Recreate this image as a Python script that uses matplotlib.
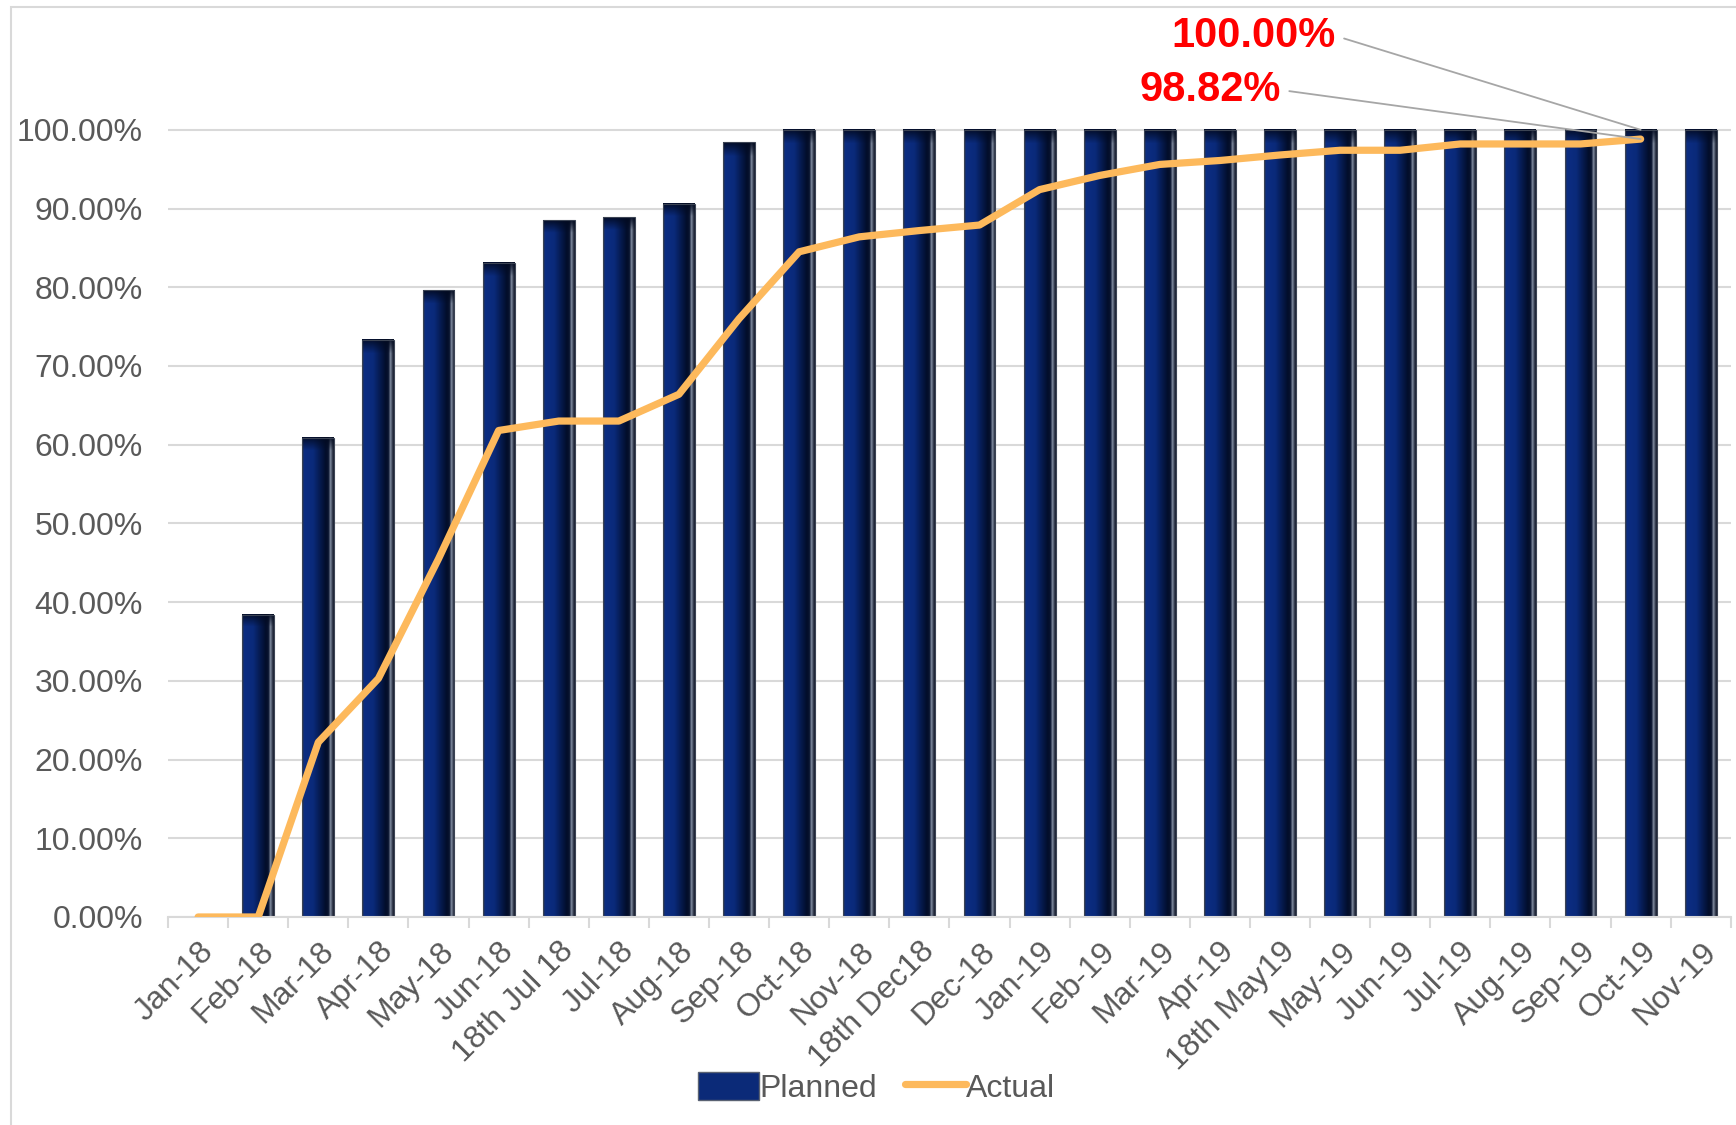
import numpy as np
import matplotlib.pyplot as plt
from matplotlib.colors import LinearSegmentedColormap, to_rgb
from matplotlib.patches import Rectangle, Patch
from matplotlib.lines import Line2D

plt.rcParams['font.family'] = ['Liberation Sans', 'DejaVu Sans']

months = ["Jan-18", "Feb-18", "Mar-18", "Apr-18", "May-18", "Jun-18", "18th Jul 18",
          "Jul-18", "Aug-18", "Sep-18", "Oct-18", "Nov-18", "18th Dec18", "Dec-18",
          "Jan-19", "Feb-19", "Mar-19", "Apr-19", "18th May19", "May-19", "Jun-19",
          "Jul-19", "Aug-19", "Sep-19", "Oct-19", "Nov-19"]
planned = [0.0, 0.384, 0.609, 0.733, 0.796, 0.831, 0.885, 0.889, 0.906, 0.984,
           1.0, 1.0, 1.0, 1.0, 1.0, 1.0, 1.0, 1.0, 1.0, 1.0, 1.0, 1.0, 1.0, 1.0, 1.0, 1.0]
actual = [0.0, 0.0, 0.222, 0.303, 0.455, 0.618, 0.630, 0.630, 0.664, 0.760,
          0.845, 0.864, 0.872, 0.879, 0.924, 0.942, 0.956, 0.961, 0.968, 0.974,
          0.974, 0.982, 0.982, 0.982, 0.9882, np.nan]
yticks = [0.0, 0.1, 0.2, 0.3, 0.4, 0.5, 0.6, 0.7, 0.8, 0.9, 1.0]

grey = "#595959"
orange = "#FDB95C"

fig = plt.figure(figsize=(17.36, 11.25), dpi=100)
ax = fig.add_axes([0.0968, 0.1849, 0.9002, 0.7837])

# chart border
fig.patches.append(Rectangle((0.0063, -0.01), 1.2, 1.004, transform=fig.transFigure,
                             fill=False, edgecolor="#d9d9d9", lw=1.5))

# gradient for the bars
stops = [(0.0, "#2b3446"), (0.06, "#0c2d82"), (0.35, "#0a2a7a"), (0.75, "#020d2a"),
         (0.84, "#0a1430"), (0.9, "#8a95a8"), (0.95, "#3a4356"), (1.0, "#1a2030")]
cmap = LinearSegmentedColormap.from_list("bar", stops)
row = cmap(np.linspace(0, 1, 64))[:, :3]

x = np.arange(len(months))
w = 0.53
px = 0.016  # roughly a dozen pixels in data units for the top bevel
for xi, h in zip(x, planned):
    if h <= 0:
        continue
    n = 300
    img = np.tile(row, (n, 1, 1))
    nb = max(1, int(round(px / h * n)))
    dark = np.array(to_rgb("#020a20"))
    for r in range(nb):
        f = 1 - r / nb
        img[r] = img[r] * (1 - 0.85 * f) + dark * 0.85 * f
    ax.imshow(img, extent=(xi - w / 2, xi + w / 2, 0, h), aspect="auto",
              interpolation="bilinear", zorder=2, origin="upper")
    ax.add_patch(Rectangle((xi - w / 2, 0), w, h, fill=False, edgecolor="#3c4454",
                           lw=0.8, zorder=2.1))

ax.plot(x, actual, color=orange, lw=5.2, solid_capstyle="round",
        solid_joinstyle="round", zorder=3)

ax.set_xlim(-0.5, len(months) - 0.5)
ax.set_ylim(0, 1.12)
ax.set_yticks(yticks)
ax.set_yticklabels([f"{v*100:.2f}%" for v in yticks], fontsize=23, color=grey)
ax.tick_params(axis="y", length=0, pad=18)
ax.yaxis.grid(True, color="#d9d9d9", lw=1.5, zorder=0)
ax.set_axisbelow(True)

ax.set_xticks(x)
ax.set_xticklabels(months, rotation=45, ha="right", rotation_mode="anchor",
                   fontsize=23, color=grey)
ax.tick_params(axis="x", length=0, pad=14)
ax.set_xticks(np.arange(len(months) + 1) - 0.5, minor=True)
ax.tick_params(axis="x", which="minor", length=8, color="#d9d9d9", width=1.5)
for s in ["top", "right", "left"]:
    ax.spines[s].set_visible(False)
ax.spines["bottom"].set_color("#d9d9d9")
ax.spines["bottom"].set_linewidth(1.5)

# data labels for the last month
i = len(months) - 2
ax.annotate(f"{planned[i]*100:.2f}%", xy=(x[i], planned[i]), xycoords="data",
            xytext=(1336, 1125 - 36), textcoords="figure pixels",
            ha="right", va="center", fontsize=30, fontweight="bold", color="red",
            annotation_clip=False,
            arrowprops=dict(arrowstyle="-", color="#a6a6a6", lw=1.3,
                            shrinkA=4, shrinkB=0, relpos=(1, 0.5)))
ax.annotate(f"{actual[i]*100:.2f}%", xy=(x[i], actual[i]), xycoords="data",
            xytext=(1281, 1125 - 90), textcoords="figure pixels",
            ha="right", va="center", fontsize=30, fontweight="bold", color="red",
            annotation_clip=False,
            arrowprops=dict(arrowstyle="-", color="#a6a6a6", lw=1.3,
                            shrinkA=4, shrinkB=0, relpos=(1, 0.5)))

handles = [Patch(facecolor="#0b2a78", edgecolor="#5a6272", label="Planned"),
           Line2D([0], [0], color=orange, lw=5.2, solid_capstyle="round", label="Actual")]
fig.legend(handles=handles, loc="center", bbox_to_anchor=(0.505, 0.033), ncol=2,
           frameon=False, fontsize=23, labelcolor=grey, handlelength=1.9,
           handletextpad=0.0, columnspacing=0.9, handleheight=1.0)

fig.savefig("out.png", dpi=100)
